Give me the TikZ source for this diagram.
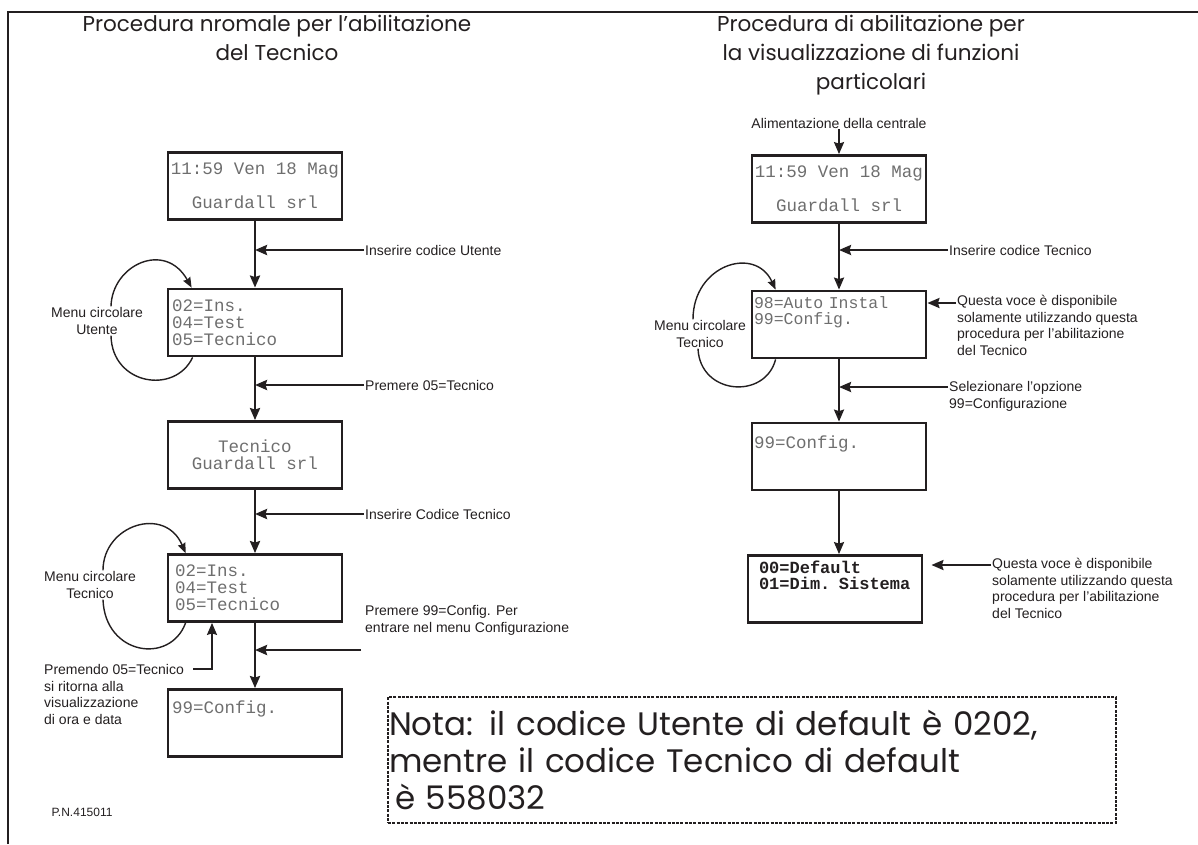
\documentclass[tikz,border=0pt]{standalone}
\usepackage{fontspec}
\setmainfont{Liberation Sans}
\newfontfamily\titlefont{Poppins}
\newfontfamily\lcdfont{Liberation Mono}
\usetikzlibrary{arrows.meta}
\definecolor{ink}{RGB}{35,31,32}
\definecolor{lcdgray}{RGB}{110,110,110}

\begin{document}
\begin{tikzpicture}[x=1pt,y=-1pt,>={Stealth[length=12pt,width=10pt,inset=1.5pt]},
    lcd/.style={draw=ink,line width=2.8,minimum width=174,minimum height=67,inner sep=0,text=lcdgray,
        font=\lcdfont\fontsize{17.5}{17}\selectfont,align=left},
    lbl/.style={text=ink,font=\fontsize{14}{16.7}\selectfont,inner sep=1,align=left},
    heading/.style={text=ink,font=\titlefont\fontsize{21.5}{29}\selectfont,align=center},
    flow/.style={draw=ink,line width=2.6,->},
    circ/.style={draw=ink,line width=1.4,-{Stealth[length=10pt,width=8pt,inset=1pt]}}]
    \useasboundingbox (0,0) rectangle (1198,844);
    \draw[ink,line width=2.5] (8,844) -- (8,12) -- (1198,12);

    \node[heading] (t1) at (277,38) {Procedura nromale per l’abilitazione\\del Tecnico};
    \node[heading] (t2) at (871,55) {Procedura di abilitazione per\\la visualizzazione di funzioni\\particolari};

    \node[lcd,align=center] (u1) at (255,186) {11:59 Ven 18 Mag\\[17pt]Guardall srl};
    \node[lcd,text width=166] (u2) at (255,322.5) {02=Ins.\\04=Test\\05=Tecnico};
    \node[lcd,align=center] (u3) at (255,455) {Tecnico\\Guardall srl};
    \node[lcd,text width=160] (u4) at (255,588) {02=Ins.\\04=Test\\05=Tecnico};
    \node[lcd,text width=166,text height=12,text depth=32] (u5) at (255,723) {99=Config.};

    \node[lbl,anchor=west] (lu1) at (364,250) {Inserire codice Utente};
    \node[lbl,anchor=west] (lu2) at (364,385) {Premere 05=Tecnico};
    \node[lbl,anchor=west] (lu3) at (364,514) {Inserire Codice Tecnico};
    \node[lbl,anchor=north west] (lu4) at (364,604) {Premere 99=Config. Per\\entrare nel menu Configurazione};
    \coordinate (c99) at (361,650);
    \node[lbl,anchor=north west] (ret) at (43,663) {Premendo 05=Tecnico\\si ritorna alla\\visualizzazione\\di ora e data};
    \coordinate (retend) at (193,669);
    \node[lbl,align=center] (mcu) at (97,321) {Menu circolare\\Utente};
    \node[lbl,align=center] (mct) at (90,585) {Menu circolare\\Tecnico};
    \node[lbl,font=\fontsize{12}{14}\selectfont] (pn) at (82,812) {P.N.415011};

    \node[lbl] (alim) at (839,123) {Alimentazione della centrale};
    \node[lcd,align=center] (r1) at (839,189) {11:59 Ven 18 Mag\\[17pt]Guardall srl};
    \node[lcd,text width=170,text height=11,text depth=44,font=\lcdfont\fontsize{16.5}{16.5}\selectfont] (r2) at (839,324.5) {98=Auto Instal\\99=Config.};
    \node[lcd,text width=170,text height=12,text depth=29] (r3) at (839,456.5) {99=Config.};
    \node[lcd,text width=152,text height=12,text depth=44,text=ink,font=\lcdfont\bfseries\fontsize{17}{16}\selectfont] (r4) at (835,589) {00=Default\\01=Dim. Sistema};

    \node[lbl,anchor=west] (lr1) at (948,250) {Inserire codice Tecnico};
    \node[lbl,anchor=north west] (q1) at (956,294) {Questa voce è disponibile\\solamente utilizzando questa\\procedura per l’abilitazione\\del Tecnico};
    \node[lbl,anchor=north west] (lr2) at (948,380) {Selezionare l’opzione\\99=Configurazione};
    \node[lbl,anchor=north west] (q2) at (991,557) {Questa voce è disponibile\\solamente utilizzando questa\\procedura per l’abilitazione\\del Tecnico};
    \node[lbl,align=center] (mcr) at (700,334) {Menu circolare\\Tecnico};
    \coordinate (q1a) at ([yshift=-9]q1.north west);
    \coordinate (lr2a) at ([yshift=-7]lr2.north west);
    \coordinate (q2a) at ([yshift=-8]q2.north west);

    \node[draw=ink,line width=2.5,dash pattern=on 3pt off 1.3pt,minimum width=728,minimum height=126,inner sep=0,
        text width=726,align=left,text=ink,font=\titlefont\fontsize{32.5}{37}\selectfont] (nota) at (752,760)
        {Nota: il codice Utente di default è 0202,\\mentre il codice Tecnico di default\\\hspace*{6pt}è 558032};

    \path[flow] (u1) edge (u2) (u2) edge (u3) (u3) edge (u4) (u4) edge (u5);
    \draw[flow] (lu1) -- (lu1 -| u1);
    \draw[flow] (lu2) -- (lu2 -| u2);
    \draw[flow] (lu3) -- (lu3 -| u3);
    \draw[flow] (c99) -- (c99 -| u4);
    \draw[flow,line width=2] (retend) -| ([xshift=-43]u4.south);
    \draw[circ] ([xshift=14]mcu.north) .. controls (112,265) and (165,240) .. ([xshift=25]u2.north west);
    \draw[ink,line width=1.4] ([xshift=14]mcu.south) .. controls (112,385) and (175,395) .. ([xshift=26]u2.south west);
    \draw[circ] ([xshift=13]mct.north) .. controls (103,525) and (165,505) .. ([xshift=19]u4.north west);
    \draw[ink,line width=1.4] ([xshift=13]mct.south) .. controls (105,655) and (170,665) .. ([xshift=19]u4.south west);

    \draw[flow,line width=2.2] (alim) -- (alim |- r1.north);
    \path[flow,line width=2.2] (r1) edge (r2) (r2) edge (r3);
    \draw[flow,line width=2.2] (r3.south) -- (r3.south |- r4.north);
    \draw[flow,line width=2.2] (lr1) -- (lr1 -| r1);
    \draw[flow,line width=2.2] (q1a) -- (q1a -| r2.east);
    \draw[flow,line width=2.2] (lr2a) -- (lr2a -| r2);
    \draw[flow,line width=2.2,shorten >=8] (q2a) -- (q2a -| r4.east);
    \draw[circ] ([xshift=-7]mcr.north) .. controls (693,265) and (755,245) .. ([xshift=25]r2.north west);
    \draw[ink,line width=1.4] ([xshift=-2]mcr.south) .. controls (700,395) and (765,400) .. ([xshift=25]r2.south west);
\end{tikzpicture}
\end{document}
